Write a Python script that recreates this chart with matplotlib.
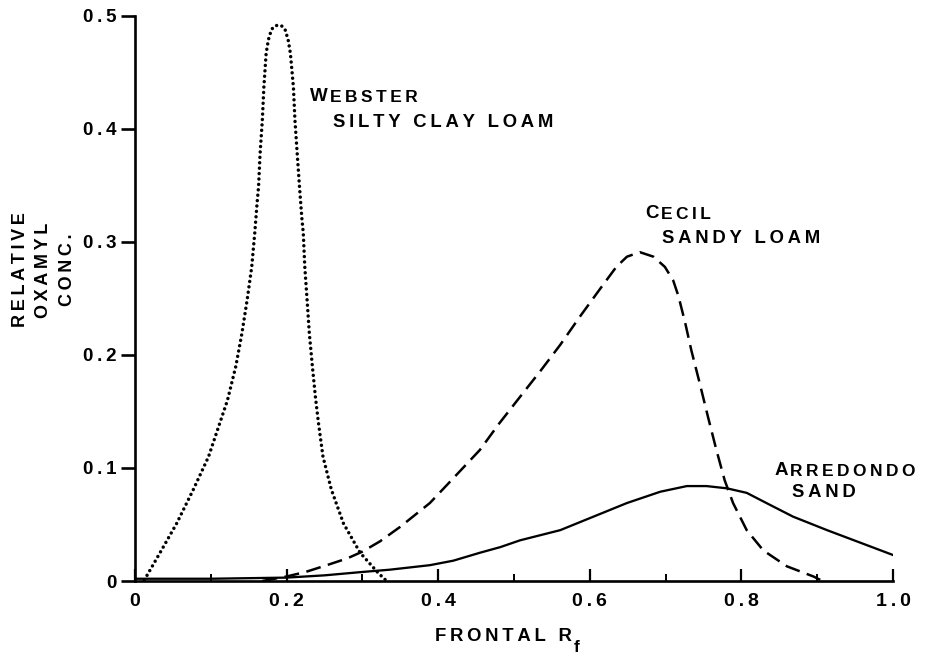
import matplotlib
matplotlib.use("Agg")
import matplotlib.pyplot as plt
from matplotlib.ticker import MultipleLocator

plt.rcParams['font.family'] = ['Liberation Sans', 'DejaVu Sans']
plt.rcParams['font.weight'] = 'bold'

# Webster silty clay loam (dotted)
webster_rf = [0.012, 0.015, 0.033, 0.055, 0.077, 0.097, 0.112, 0.122, 0.133, 0.141,
              0.148, 0.154, 0.158, 0.161, 0.163, 0.165, 0.168, 0.170, 0.173, 0.176,
              0.180, 0.184, 0.189, 0.194, 0.198, 0.202, 0.205, 0.209, 0.211, 0.214,
              0.217, 0.220, 0.222, 0.224, 0.227, 0.230, 0.234, 0.238, 0.242, 0.248,
              0.259, 0.275, 0.297, 0.321, 0.332]
webster_conc = [0.001, 0.004, 0.025, 0.051, 0.081, 0.110, 0.140, 0.160, 0.190, 0.219,
                0.249, 0.278, 0.308, 0.334, 0.349, 0.378, 0.408, 0.437, 0.467, 0.479,
                0.488, 0.491, 0.492, 0.491, 0.488, 0.479, 0.467, 0.437, 0.408, 0.378,
                0.349, 0.322, 0.308, 0.278, 0.249, 0.219, 0.190, 0.163, 0.140, 0.110,
                0.081, 0.051, 0.025, 0.007, 0.000]

# Cecil sandy loam (dashed)
cecil_rf = [0.168, 0.200, 0.225, 0.253, 0.280, 0.300, 0.323, 0.350, 0.389, 0.420,
            0.455, 0.480, 0.508, 0.535, 0.561, 0.587, 0.613, 0.635, 0.649, 0.666,
            0.684, 0.699, 0.710, 0.717, 0.726, 0.734, 0.745, 0.756, 0.767, 0.778,
            0.789, 0.807, 0.829, 0.860, 0.895, 0.904]
cecil_conc = [0.000, 0.004, 0.008, 0.014, 0.020, 0.026, 0.035, 0.048, 0.069, 0.091,
              0.116, 0.139, 0.163, 0.186, 0.209, 0.234, 0.258, 0.278, 0.287, 0.291,
              0.287, 0.278, 0.266, 0.252, 0.228, 0.204, 0.175, 0.145, 0.116, 0.089,
              0.069, 0.045, 0.027, 0.013, 0.004, 0.001]

# Arredondo sand (solid)
arredondo_rf = [0.0, 0.1, 0.2, 0.25, 0.30, 0.336, 0.389, 0.420, 0.455, 0.482,
                0.508, 0.561, 0.605, 0.649, 0.693, 0.728, 0.754, 0.781, 0.807, 0.833,
                0.868, 0.913, 1.0]
arredondo_conc = [0.002, 0.002, 0.003, 0.005, 0.008, 0.010, 0.014, 0.018, 0.025, 0.030,
                  0.036, 0.045, 0.057, 0.069, 0.079, 0.084, 0.084, 0.082, 0.078, 0.069,
                  0.057, 0.045, 0.023]

x_ticks = [0.0, 0.2, 0.4, 0.6, 0.8, 1.0]
x_tick_labels = ["0", "0.2", "0.4", "0.6", "0.8", "1.0"]
y_ticks = [0.0, 0.1, 0.2, 0.3, 0.4, 0.5]
y_tick_labels = ["0", "0.1", "0.2", "0.3", "0.4", "0.5"]

THIN = "\u2009"


def spaced(s):
    """Open up the letter spacing with thin spaces."""
    return (THIN + " " + THIN).join(THIN.join(word) for word in s.split(" "))


fig = plt.figure(figsize=(9.32, 6.62), dpi=100)
ax = fig.add_axes([135 / 932, 1 - 581 / 662, (893 - 135) / 932, (581 - 16) / 662])

ax.plot(webster_rf, webster_conc, color='black', lw=2.5,
        linestyle=(0, (0.01, 1.55)), dash_capstyle='round')
ax.plot(cecil_rf, cecil_conc, color='black', lw=1.8, linestyle=(0, (6.0, 3.0)))
ax.plot(arredondo_rf, arredondo_conc, color='black', lw=1.65)

ax.set_xlim(0, 1.0)
ax.set_ylim(0, 0.5)
for side in ('top', 'right'):
    ax.spines[side].set_visible(False)
for side in ('left', 'bottom'):
    ax.spines[side].set_linewidth(1.9)

ax.set_xticks(x_ticks)
ax.set_xticklabels([spaced(t) for t in x_tick_labels])
ax.xaxis.set_minor_locator(MultipleLocator(0.1))
ax.set_yticks(y_ticks)
ax.set_yticklabels([spaced(t) for t in y_tick_labels])

ax.tick_params(axis='x', which='major', direction='in', length=9, width=1.6,
               pad=9, labelsize=14)
ax.tick_params(axis='x', which='minor', direction='in', length=5, width=1.4)
ax.tick_params(axis='y', which='major', direction='out', length=10, width=1.9,
               pad=3, labelsize=13.5)
for lab in ax.get_xticklabels() + ax.get_yticklabels():
    lab.set_fontweight('bold')


def small_caps(x, y, first, rest, big=13.5, small=12.5):
    t = ax.text(x, y, first, fontsize=big, fontweight='bold', ha='left',
                va='baseline', clip_on=False)
    ax.annotate(spaced(rest), xy=(1, 0), xycoords=t, xytext=(1.5, 0),
                textcoords='offset points', fontsize=small, fontweight='bold',
                ha='left', va='bottom', annotation_clip=False)


def plain(x, y, s, size=13.3):
    ax.text(x, y, spaced(s), fontsize=size, fontweight='bold', ha='left',
            va='baseline', clip_on=False)


small_caps(0.231, 0.425, "W", "EBSTER")
plain(0.261, 0.402, "SILTY CLAY LOAM")
small_caps(0.673, 0.321, "C", "ECIL")
plain(0.695, 0.299, "SANDY LOAM")
small_caps(0.844, 0.094, "A", "RREDONDO")
plain(0.867, 0.074, "SAND")

# x-axis title with subscript f
xt = fig.text(435 / 932, 1 - 641 / 662, spaced("FRONTAL R"), fontsize=13.3,
              fontweight='bold', ha='left', va='baseline')
ax.annotate("f", xy=(1, 0), xycoords=xt, xytext=(1.5, -1.5),
            textcoords='offset points', fontsize=12.5, fontweight='bold',
            ha='left', va='center', annotation_clip=False)

# y-axis title, three stacked lines
fig.text(44 / 932, 1 - 270 / 662,
         "\n".join(spaced(w) for w in ["RELATIVE", "OXAMYL", "CONC."]),
         rotation=90, fontsize=13, fontweight='bold', ha='center', va='center',
         multialignment='center', linespacing=1.5)

fig.savefig("out.png", dpi=100)
